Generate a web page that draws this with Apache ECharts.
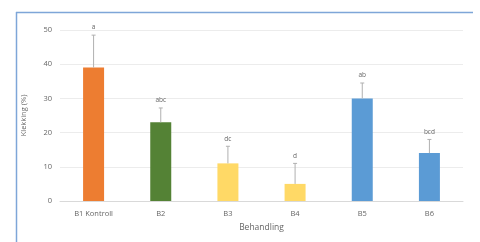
<!DOCTYPE html>
<html>
<head>
<meta charset="utf-8">
<script src="https://cdn.jsdelivr.net/npm/echarts@6/dist/echarts.min.js"></script>
<style>
  html, body { margin: 0; padding: 0; background: #fff; }
  #main { width: 480px; height: 242px; }
</style>
</head>
<body>
<div id="main"></div>
<script>
// data
var categories = ['B1 Kontroll', 'B2', 'B3', 'B4', 'B5', 'B6'];
var values = [39, 23, 11, 5, 30, 14];
var errors = [9.5, 4.2, 5, 6, 4.5, 4];
var letters = ['a', 'abc', 'dc', 'd', 'ab', 'bcd'];
var colors = ['#ED7D31', '#548235', '#FFD966', '#FFD966', '#5B9BD5', '#5B9BD5'];

var myChart = echarts.init(document.getElementById('main'));

var barData = values.map(function(v, i) {
  return { value: v, itemStyle: { color: colors[i] } };
});
var errData = values.map(function(v, i) {
  return [i, v, v + errors[i], letters[i]];
});

myChart.setOption({
  animation: false,
  textStyle: { fontFamily: 'Open Sans, Noto Sans, sans-serif' },
  graphic: [
    { type: 'line', shape: { x1: 16, y1: 12.5, x2: 473, y2: 12.5 }, style: { stroke: '#7EA6D8', lineWidth: 1.5 } },
    { type: 'line', shape: { x1: 16.5, y1: 12, x2: 16.5, y2: 242 }, style: { stroke: '#7EA6D8', lineWidth: 1.5 } }
  ],
  grid: { left: 60, right: 17, top: 30, bottom: 41 },
  xAxis: {
    type: 'category',
    data: categories,
    name: 'Behandling',
    nameLocation: 'middle',
    nameGap: 22,
    nameTextStyle: { color: '#666666', fontSize: 8.5 },
    axisLine: { lineStyle: { color: '#D9D9D9' } },
    axisTick: { show: false },
    axisLabel: { color: '#666666', fontSize: 7.5, margin: 9 }
  },
  yAxis: {
    type: 'value',
    min: 0,
    max: 50,
    interval: 10,
    name: 'Klekking (%)',
    nameLocation: 'middle',
    nameGap: 32,
    nameTextStyle: { color: '#666666', fontSize: 7.5 },
    axisLine: { show: false },
    axisTick: { show: false },
    axisLabel: { color: '#666666', fontSize: 7.5, margin: 8 },
    splitLine: { lineStyle: { color: '#ECECEC' } }
  },
  series: [
    {
      type: 'bar',
      data: barData,
      barWidth: 21
    },
    {
      type: 'custom',
      data: errData,
      z: 5,
      renderItem: function(params, api) {
        var x = api.coord([api.value(0), api.value(1)])[0];
        var y0 = api.coord([api.value(0), api.value(1)])[1];
        var y1 = api.coord([api.value(0), api.value(2)])[1];
        var lineStyle = { stroke: '#B0B0B0', lineWidth: 1 };
        return {
          type: 'group',
          children: [
            { type: 'line', shape: { x1: x, y1: y0, x2: x, y2: y1 }, style: lineStyle },
            { type: 'line', shape: { x1: x - 2, y1: y1, x2: x + 2, y2: y1 }, style: lineStyle },
            {
              type: 'text',
              style: {
                text: letters[params.dataIndex],
                x: x,
                y: y1 - 4,
                align: 'center',
                verticalAlign: 'bottom',
                fill: '#666666',
                fontSize: 6.5,
                fontFamily: 'Open Sans, sans-serif'
              }
            }
          ]
        };
      }
    }
  ]
});
</script>
</body>
</html>
